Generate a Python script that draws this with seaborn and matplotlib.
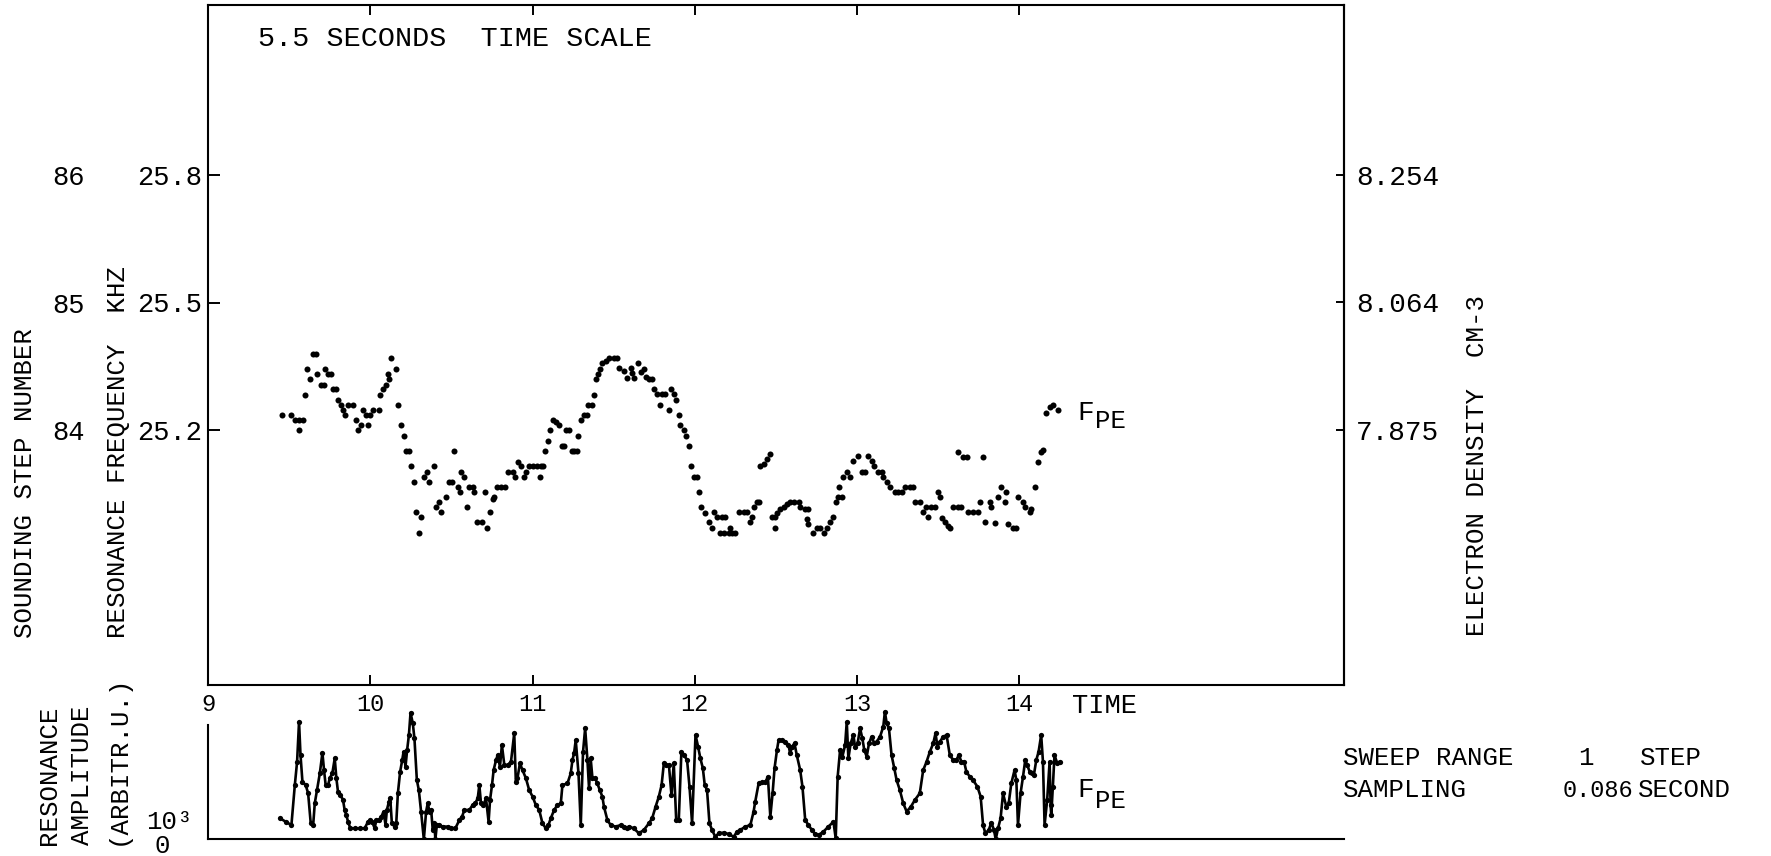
import numpy as np
import pandas as pd
import matplotlib
matplotlib.use("Agg")
import matplotlib.pyplot as plt
import seaborn as sns


# Data
# resonance frequency F_PE (kHz) against time
fpe_time = [
    9.453, 9.514, 9.535, 9.561, 9.586, 9.561, 9.596, 9.611, 9.627, 9.647,
    9.664, 9.674, 9.699, 9.713, 9.719, 9.740, 9.760, 9.770, 9.791, 9.801,
    9.822, 9.832, 9.846, 9.862, 9.893, 9.910, 9.924, 9.940, 9.955, 9.975,
    9.985, 9.996, 10.016, 10.053, 10.061, 10.078, 10.098, 10.115, 10.108, 10.129,
    10.160, 10.170, 10.190, 10.205, 10.221, 10.237, 10.252, 10.268, 10.283, 10.313,
    10.299, 10.328, 10.348, 10.360, 10.395, 10.406, 10.426, 10.436, 10.467, 10.483,
    10.504, 10.518, 10.539, 10.553, 10.559, 10.580, 10.596, 10.611, 10.631, 10.641,
    10.658, 10.688, 10.707, 10.719, 10.740, 10.754, 10.764, 10.781, 10.805, 10.832,
    10.846, 10.877, 10.893, 10.908, 10.928, 10.949, 10.959, 10.979, 11.000, 11.025,
    11.051, 11.067, 11.045, 11.078, 11.092, 11.108, 11.123, 11.143, 11.160, 11.180,
    11.194, 11.205, 11.225, 11.241, 11.256, 11.276, 11.282, 11.297, 11.317, 11.334,
    11.344, 11.365, 11.379, 11.389, 11.403, 11.414, 11.430, 11.451, 11.471, 11.502,
    11.522, 11.532, 11.563, 11.584, 11.604, 11.614, 11.625, 11.651, 11.666, 11.686,
    11.696, 11.717, 11.733, 11.747, 11.768, 11.788, 11.799, 11.819, 11.840, 11.850,
    11.870, 11.885, 11.901, 11.911, 11.932, 11.946, 11.963, 11.979, 11.993, 12.014,
    12.024, 12.040, 12.065, 12.086, 12.106, 12.116, 12.137, 12.167, 12.188, 12.157,
    12.178, 12.208, 12.229, 12.249, 12.219, 12.270, 12.301, 12.321, 12.342, 12.352,
    12.362, 12.383, 12.393, 12.403, 12.424, 12.444, 12.465, 12.475, 12.495, 12.506,
    12.495, 12.526, 12.547, 12.567, 12.588, 12.608, 12.639, 12.649, 12.680, 12.700,
    12.690, 12.700, 12.731, 12.751, 12.772, 12.793, 12.813, 12.833, 12.854, 12.868,
    12.885, 12.889, 12.905, 12.915, 12.936, 12.956, 12.977, 13.008, 13.028, 13.049,
    13.069, 13.090, 13.106, 13.131, 13.151, 13.161, 13.182, 13.202, 13.233, 13.253,
    13.274, 13.294, 13.325, 13.346, 13.356, 13.387, 13.407, 13.427, 13.438, 13.458,
    13.479, 13.499, 13.510, 13.520, 13.540, 13.561, 13.571, 13.592, 13.622, 13.643,
    13.622, 13.653, 13.674, 13.776, 13.684, 13.715, 13.745, 13.756, 13.786, 13.817,
    13.827, 13.848, 13.868, 13.889, 13.909, 13.920, 13.930, 13.960, 13.981, 13.991,
    14.022, 14.032, 14.063, 14.073, 14.093, 14.114, 14.134, 14.145, 14.165, 14.186,
    14.206, 14.237,
]
fpe_khz = [
    25.235, 25.235, 25.224, 25.224, 25.224, 25.200, 25.282, 25.344, 25.319, 25.380,
    25.380, 25.332, 25.307, 25.307, 25.344, 25.332, 25.332, 25.296, 25.296, 25.271,
    25.259, 25.247, 25.235, 25.259, 25.259, 25.224, 25.200, 25.212, 25.247, 25.235,
    25.212, 25.235, 25.247, 25.247, 25.282, 25.296, 25.307, 25.319, 25.332, 25.369,
    25.344, 25.259, 25.212, 25.187, 25.151, 25.151, 25.115, 25.078, 25.008, 24.996,
    24.958, 25.090, 25.102, 25.078, 25.115, 25.020, 25.031, 25.008, 25.043, 25.078,
    25.078, 25.151, 25.067, 25.055, 25.102, 25.090, 25.020, 25.067, 25.067, 25.055,
    24.984, 24.984, 25.055, 24.969, 25.008, 25.037, 25.043, 25.067, 25.067, 25.067,
    25.102, 25.102, 25.090, 25.125, 25.115, 25.090, 25.102, 25.115, 25.115, 25.115,
    25.115, 25.115, 25.090, 25.151, 25.175, 25.200, 25.224, 25.218, 25.212, 25.163,
    25.163, 25.200, 25.200, 25.151, 25.151, 25.151, 25.187, 25.224, 25.235, 25.235,
    25.259, 25.259, 25.282, 25.319, 25.332, 25.344, 25.357, 25.363, 25.369, 25.369,
    25.369, 25.346, 25.338, 25.322, 25.346, 25.334, 25.322, 25.357, 25.337, 25.344,
    25.325, 25.319, 25.319, 25.296, 25.285, 25.259, 25.285, 25.285, 25.247, 25.296,
    25.285, 25.271, 25.235, 25.212, 25.200, 25.187, 25.163, 25.115, 25.090, 25.090,
    25.055, 25.020, 25.004, 24.984, 24.969, 25.008, 24.996, 24.996, 24.996, 24.958,
    24.958, 24.958, 24.958, 24.958, 24.969, 25.008, 25.008, 25.008, 24.984, 24.996,
    25.020, 25.031, 25.031, 25.115, 25.119, 25.131, 25.143, 24.996, 24.996, 25.004,
    24.969, 25.014, 25.020, 25.027, 25.031, 25.031, 25.031, 25.020, 25.014, 25.014,
    24.990, 24.978, 24.958, 24.969, 24.969, 24.958, 24.969, 24.984, 24.996, 25.031,
    25.043, 25.067, 25.043, 25.090, 25.102, 25.090, 25.127, 25.139, 25.102, 25.102,
    25.139, 25.127, 25.115, 25.102, 25.102, 25.090, 25.078, 25.067, 25.055, 25.055,
    25.055, 25.067, 25.067, 25.067, 25.031, 25.031, 25.008, 25.020, 24.996, 25.020,
    25.020, 25.055, 25.043, 24.992, 24.984, 24.973, 24.969, 25.020, 25.020, 25.020,
    25.149, 25.137, 25.137, 25.137, 25.008, 25.008, 25.008, 25.031, 24.984, 25.031,
    25.020, 24.982, 25.043, 25.067, 25.031, 25.055, 24.980, 24.969, 24.969, 25.043,
    25.031, 25.020, 25.008, 25.014, 25.067, 25.125, 25.149, 25.153, 25.239, 25.255,
    25.259, 25.247,
]

# resonance amplitude (units of 10^3, arbitrary) against time
amp_time = [
    9.443, 9.480, 9.514, 9.535, 9.549, 9.561, 9.570, 9.582, 9.602, 9.617,
    9.633, 9.648, 9.658, 9.672, 9.689, 9.705, 9.715, 9.725, 9.740, 9.750,
    9.766, 9.781, 9.791, 9.801, 9.816, 9.832, 9.842, 9.852, 9.863, 9.877,
    9.904, 9.934, 9.965, 9.986, 10.000, 10.012, 10.027, 10.037, 10.053, 10.068,
    10.082, 10.094, 10.102, 10.115, 10.123, 10.133, 10.150, 10.160, 10.170, 10.184,
    10.197, 10.205, 10.217, 10.227, 10.238, 10.248, 10.262, 10.272, 10.287, 10.299,
    10.313, 10.330, 10.344, 10.354, 10.365, 10.375, 10.385, 10.395, 10.401, 10.410,
    10.426, 10.447, 10.477, 10.498, 10.524, 10.549, 10.565, 10.580, 10.610, 10.631,
    10.647, 10.662, 10.672, 10.682, 10.697, 10.713, 10.729, 10.738, 10.750, 10.760,
    10.775, 10.785, 10.799, 10.811, 10.826, 10.846, 10.867, 10.887, 10.897, 10.907,
    10.922, 10.938, 10.959, 10.979, 11.000, 11.020, 11.041, 11.061, 11.082, 11.098,
    11.112, 11.133, 11.153, 11.174, 11.184, 11.215, 11.235, 11.246, 11.256, 11.266,
    11.283, 11.297, 11.311, 11.324, 11.338, 11.348, 11.358, 11.369, 11.385, 11.399,
    11.414, 11.430, 11.440, 11.461, 11.481, 11.512, 11.543, 11.563, 11.584, 11.594,
    11.624, 11.655, 11.686, 11.717, 11.737, 11.758, 11.778, 11.795, 11.809, 11.823,
    11.840, 11.856, 11.870, 11.885, 11.901, 11.917, 11.932, 11.952, 11.967, 11.983,
    12.004, 12.020, 12.034, 12.049, 12.061, 12.075, 12.090, 12.106, 12.126, 12.147,
    12.178, 12.208, 12.239, 12.260, 12.280, 12.311, 12.342, 12.362, 12.372, 12.393,
    12.413, 12.434, 12.450, 12.465, 12.479, 12.491, 12.506, 12.516, 12.536, 12.557,
    12.577, 12.587, 12.598, 12.614, 12.628, 12.649, 12.663, 12.680, 12.700, 12.721,
    12.741, 12.762, 12.792, 12.823, 12.854, 12.868, 12.880, 12.895, 12.909, 12.926,
    12.936, 12.946, 12.960, 12.977, 12.987, 13.003, 13.018, 13.032, 13.044, 13.059,
    13.073, 13.089, 13.106, 13.120, 13.141, 13.161, 13.171, 13.182, 13.196, 13.212,
    13.229, 13.243, 13.263, 13.284, 13.305, 13.331, 13.356, 13.386, 13.407, 13.428,
    13.448, 13.469, 13.483, 13.495, 13.510, 13.530, 13.551, 13.571, 13.591, 13.612,
    13.626, 13.643, 13.659, 13.673, 13.694, 13.714, 13.741, 13.761, 13.776, 13.790,
    13.811, 13.827, 13.843, 13.854, 13.868, 13.884, 13.899, 13.919, 13.934, 13.950,
    13.970, 13.981, 13.991, 14.007, 14.022, 14.036, 14.048, 14.063, 14.077, 14.089,
    14.104, 14.118, 14.134, 14.145, 14.155, 14.171, 14.186, 14.192, 14.196, 14.206,
    14.216, 14.233, 14.247,
]
amp_k = [
    1.08, 0.90, 0.73, 2.78, 3.98, 6.03, 4.32, 2.95, 2.78, 2.36,
    0.82, 0.73, 1.85, 2.53, 3.38, 4.44, 3.55, 2.78, 2.78, 3.13,
    3.38, 4.15, 3.13, 2.44, 2.27, 2.02, 1.50, 1.25, 0.90, 0.56,
    0.56, 0.56, 0.56, 0.90, 0.99, 0.90, 0.56, 0.99, 0.99, 1.16,
    1.42, 0.73, 1.50, 1.93, 2.10, 0.82, 0.65, 0.82, 2.36, 3.47,
    4.07, 4.49, 3.72, 4.58, 5.35, 6.49, 5.95, 5.18, 3.04, 2.53,
    1.42, 0.00, 1.42, 1.85, 1.42, 1.50, 0.48, 0.82, 0.00, 0.73,
    0.73, 0.65, 0.65, 0.56, 0.56, 0.99, 1.16, 1.50, 1.50, 1.76,
    1.85, 2.10, 2.78, 1.85, 1.76, 2.10, 0.90, 2.02, 2.78, 3.55,
    4.07, 4.32, 3.72, 4.84, 3.81, 3.81, 3.98, 5.44, 2.95, 3.13,
    3.90, 3.55, 3.13, 2.53, 2.19, 1.76, 1.50, 0.82, 0.56, 0.73,
    1.08, 1.50, 1.76, 1.85, 2.78, 2.87, 3.38, 4.07, 4.44, 5.09,
    3.38, 0.73, 4.49, 5.69, 4.07, 2.62, 4.15, 3.13, 3.13, 2.87,
    2.53, 2.19, 1.67, 0.99, 0.73, 0.65, 0.73, 0.65, 0.56, 0.65,
    0.56, 0.31, 0.48, 0.82, 1.08, 1.67, 2.19, 2.78, 3.90, 3.81,
    3.81, 2.27, 3.90, 1.00, 1.00, 4.49, 4.32, 4.07, 2.70, 0.82,
    5.35, 4.75, 4.15, 3.66, 2.78, 2.53, 0.82, 0.48, 0.13, 0.31,
    0.34, 0.27, 0.13, 0.39, 0.48, 0.65, 0.73, 1.42, 1.93, 2.87,
    2.93, 2.93, 3.21, 1.16, 2.36, 3.64, 4.58, 5.09, 5.09, 5.01,
    4.84, 4.41, 4.75, 4.92, 4.32, 3.55, 2.70, 0.99, 0.73, 0.48,
    0.27, 0.22, 0.39, 0.65, 0.90, 0.05, 3.21, 4.58, 4.24, 4.84,
    6.03, 4.15, 4.92, 5.35, 4.75, 4.92, 5.69, 5.18, 4.58, 4.24,
    4.92, 5.26, 4.92, 5.01, 5.26, 5.78, 6.54, 5.95, 5.69, 4.32,
    3.64, 3.04, 2.53, 1.85, 1.42, 1.67, 2.02, 2.36, 3.55, 3.98,
    4.49, 4.92, 5.44, 4.75, 5.01, 5.26, 5.35, 4.32, 4.07, 4.07,
    4.32, 3.98, 3.98, 3.47, 3.21, 3.04, 2.70, 2.19, 0.73, 0.31,
    0.48, 0.85, 0.48, 0.00, 0.56, 1.08, 2.36, 1.67, 1.85, 2.87,
    3.55, 3.04, 0.73, 2.36, 3.21, 4.07, 3.81, 3.47, 3.38, 3.30,
    4.07, 4.49, 5.35, 3.98, 0.73, 2.02, 3.98, 1.76, 1.25, 2.70,
    4.32, 3.90, 3.98,
]

# Axis ticks
time_ticks = [9, 10, 11, 12, 13, 14]
freq_ticks = [25.2, 25.5, 25.8]
step_ticks = [84, 85, 86]
density_ticks = [7.875, 8.064, 8.254]


# Styling
sns.set_theme(style="white")
plt.rcParams['font.family'] = ['Liberation Mono', 'DejaVu Sans Mono']
plt.rcParams['text.color'] = 'black'
plt.rcParams['xtick.color'] = 'black'
plt.rcParams['ytick.color'] = 'black'

W, H = 1771, 856
fig = plt.figure(figsize=(W / 100, H / 100), dpi=100)
fig.patch.set_facecolor('white')


def fx(x):
    return x / W


def fy(y):
    return 1 - y / H


# Main panel (frequency)
ax = fig.add_axes([fx(208), fy(685), (1344 - 208) / W, (685 - 5) / H])
df_fpe = pd.DataFrame({"time": fpe_time, "freq": fpe_khz})
sns.scatterplot(data=df_fpe, x="time", y="freq", ax=ax, color="black",
                s=19, linewidth=0, marker="o")
ax.set_xlim(9, 16)
ax.set_ylim(24.6, 26.2)
ax.set_xticks(time_ticks)
ax.set_xticklabels([str(t) for t in time_ticks])
ax.set_yticks(freq_ticks)
ax.set_yticklabels([f"{v:.1f}" for v in freq_ticks])
ax.set_xlabel("")
ax.set_ylabel("")
ax.tick_params(axis='x', direction='in', top=True, bottom=True, length=7,
               width=1.4, pad=6, labelsize=17)
ax.tick_params(axis='y', direction='in', left=True, right=False, length=8.5,
               width=1.4, pad=4, labelsize=19.5)
for s in ax.spines.values():
    s.set_linewidth(1.5)
    s.set_color('black')

# sounding step numbers (second column on the left)
step_ax = ax.secondary_yaxis((85 - 208) / 1136,
                             functions=(lambda f: 84 + (f - 25.2) / 0.3,
                                        lambda n: 25.2 + (n - 84) * 0.3))
step_ax.set_yticks(step_ticks)
step_ax.set_yticklabels([str(n) for n in step_ticks])
step_ax.spines['left'].set_visible(False)
step_ax.tick_params(length=0, pad=0, labelsize=19.5)


# electron density from plasma frequency: n = (f / 8.98 kHz)^2
def f2n(f):
    return (np.asarray(f) / 8.98) ** 2


def n2f(n):
    return np.sqrt(np.maximum(np.asarray(n), 0)) * 8.98


dens_ax = ax.secondary_yaxis('right', functions=(f2n, n2f))
dens_ax.set_yticks(density_ticks)
dens_ax.set_yticklabels([f"{v:.3f}" for v in density_ticks])
dens_ax.spines['right'].set_linewidth(1.5)
dens_ax.tick_params(direction='in', length=6, width=1.4, pad=8.5, labelsize=20)

# Amplitude panel
ax_amp = fig.add_axes([fx(208), fy(839.3), (1344 - 208) / W, (839.3 - 705) / H])
df_amp = pd.DataFrame({"time": amp_time, "amp": amp_k})
sns.lineplot(data=df_amp, x="time", y="amp", ax=ax_amp, color="black",
             linewidth=1.9, marker="o", markersize=3.8, markeredgewidth=0,
             sort=False, estimator=None)
ax_amp.set_xlim(9, 16)
ax_amp.set_ylim(0, 6.89)
ax_amp.set_xticks([])
ax_amp.set_yticks([1.0])
ax_amp.set_yticklabels(["10\u00b3"])
ax_amp.set_xlabel("")
ax_amp.set_ylabel("")
ax_amp.tick_params(axis='y', direction='out', length=7, width=1.4, pad=4,
                   labelsize=18.5)
ax_amp.spines['top'].set_visible(False)
ax_amp.spines['right'].set_visible(False)
ax_amp.spines['left'].set_bounds(0, 5.86)
for s in ('left', 'bottom'):
    ax_amp.spines[s].set_linewidth(1.5)
    ax_amp.spines[s].set_color('black')
ax_amp.patch.set_alpha(0)


# Texts
fig.text(fx(258), fy(46.5), "5.5 SECONDS  TIME SCALE", ha='left',
         va='baseline', fontsize=20.5)
fig.text(fx(25), fy(638), "SOUNDING STEP NUMBER", rotation=90, ha='center',
         va='bottom', fontsize=18.5)
fig.text(fx(118), fy(638), "RESONANCE FREQUENCY  KHZ", rotation=90,
         ha='center', va='bottom', fontsize=18.5)
fig.text(fx(1477), fy(636), "ELECTRON DENSITY  CM-3", rotation=90,
         ha='center', va='bottom', fontsize=18.5)

fig.text(fx(49), fy(845), "RESONANCE", rotation=90, ha='center', va='bottom',
         fontsize=18.5)
fig.text(fx(82), fy(845), "AMPLITUDE", rotation=90, ha='center', va='bottom',
         fontsize=18.5)
fig.text(fx(118), fy(845), "(ARBITR.U.)", rotation=90, ha='center',
         va='bottom', fontsize=18.5)
fig.text(fx(162), fy(853), "0", ha='center', va='baseline', fontsize=18.5)

fig.text(fx(1072), fy(713), "TIME", ha='left', va='baseline', fontsize=19.5)

fig.text(fx(1077), fy(420), "F", ha='left', va='baseline', fontsize=20)
fig.text(fx(1095), fy(428), "PE", ha='left', va='baseline', fontsize=18.5)
fig.text(fx(1077), fy(797), "F", ha='left', va='baseline', fontsize=20)
fig.text(fx(1095), fy(808), "PE", ha='left', va='baseline', fontsize=18.5)

fig.text(fx(1343), fy(765), "SWEEP RANGE", ha='left', va='baseline', fontsize=18.5)
fig.text(fx(1578), fy(765), "1", ha='left', va='baseline', fontsize=18.5)
fig.text(fx(1640), fy(765), "STEP", ha='left', va='baseline', fontsize=18.5)
fig.text(fx(1343), fy(797), "SAMPLING", ha='left', va='baseline', fontsize=18.5)
fig.text(fx(1633), fy(797), "0.086", ha='right', va='baseline', fontsize=17)
fig.text(fx(1638), fy(797), "SECOND", ha='left', va='baseline', fontsize=18.5)

fig.savefig("out.png", dpi=100, facecolor='white')
